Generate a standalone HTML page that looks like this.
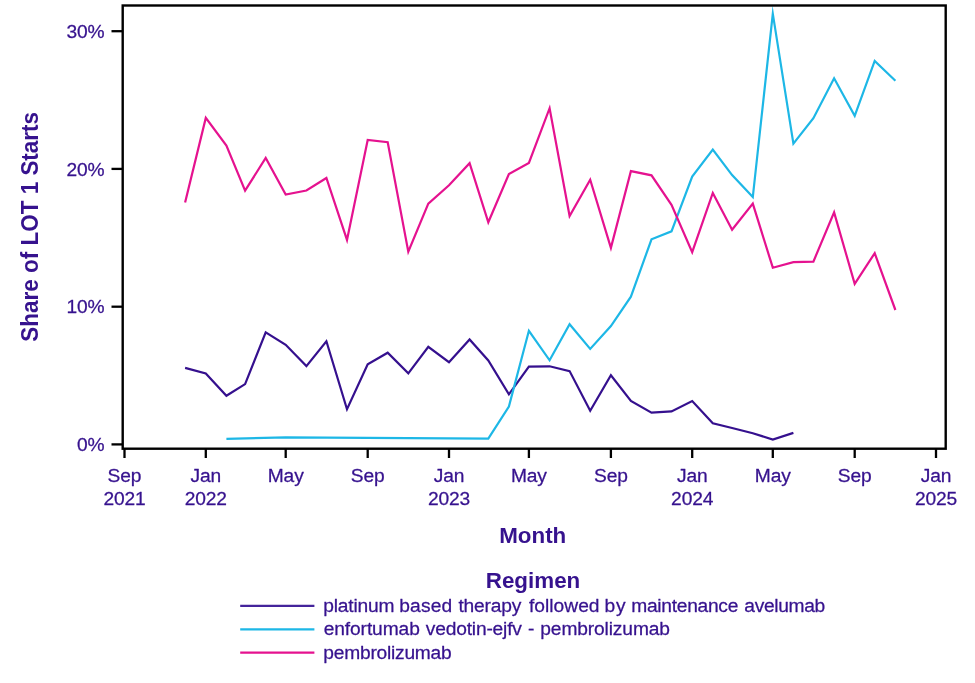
<!DOCTYPE html>
<html><head><meta charset="utf-8"><title>Share of LOT 1 Starts</title>
<style>
html,body{margin:0;padding:0;background:#fff;}
body{width:975px;height:683px;overflow:hidden;font-family:"Liberation Sans",sans-serif;}
svg{display:block;will-change:transform;}
text{font-family:"Liberation Sans",sans-serif;fill:#36128e;stroke:#36128e;stroke-width:0.28px;stroke-linejoin:round;}
.ttl{stroke:none;}
.tk{font-size:19.2px;letter-spacing:-0.12px;}
.ttl{font-size:22.4px;font-weight:bold;}
.lg{font-size:19.2px;letter-spacing:-0.12px;}
</style></head><body>
<svg width="975" height="683" viewBox="0 0 975 683">
<rect x="0" y="0" width="975" height="683" fill="#fff"/>
<g fill="none" stroke-width="2.2" stroke-linejoin="miter" stroke-miterlimit="20" stroke-linecap="butt">
<polyline stroke="#35108e" points="185.1,367.9 205.8,373.4 226.4,395.8 245.1,384.1 265.7,332.4 285.7,344.8 306.4,366.1 326.4,341.2 347.0,409.2 367.7,364.4 387.7,352.7 408.3,373.3 428.3,346.9 449.0,362.2 469.6,339.4 488.3,360.4 508.9,394.3 528.9,366.7 549.6,366.3 569.6,371.1 590.2,410.7 610.9,375.3 630.9,400.9 651.5,412.6 671.5,411.4 692.2,401.0 712.8,423.3 732.1,428.0 752.8,433.2 772.8,439.5 793.4,432.9"/>
<polyline stroke="#1db7e6" points="226.4,438.8 285.7,437.4 488.3,438.6 508.9,406.5 528.9,330.8 549.6,360.3 569.6,324.3 590.2,348.9 610.9,326.1 630.9,296.7 651.5,239.3 671.5,231.3 692.2,176.6 712.8,149.5 732.1,175.1 752.8,197.1 772.8,13.7 793.4,143.7 813.4,118.2 834.1,78.3 854.7,115.8 874.7,60.9 895.4,80.8"/>
<polyline stroke="#e5128f" points="185.1,202.5 205.8,117.9 226.4,145.5 245.1,190.6 265.7,158.0 285.7,194.5 306.4,190.5 326.4,178.0 347.0,239.9 367.7,140.0 387.7,142.2 408.3,251.7 428.3,203.7 449.0,185.2 469.6,163.2 488.3,222.3 508.9,174.1 528.9,162.9 549.6,108.2 569.6,216.0 590.2,179.8 610.9,247.9 630.9,171.1 651.5,175.3 671.5,204.9 692.2,252.2 712.8,192.9 732.1,229.8 752.8,203.6 772.8,267.7 793.4,262.1 813.4,261.6 834.1,212.4 854.7,283.8 874.7,253.2 895.4,310.0"/>
</g>
<rect x="122.7" y="5.5" width="823" height="443.2" fill="none" stroke="#000" stroke-width="2.4"/>
<g stroke="#000" stroke-width="2.3"><line x1="124.5" y1="449" x2="124.5" y2="458"/><line x1="205.8" y1="449" x2="205.8" y2="458"/><line x1="285.7" y1="449" x2="285.7" y2="458"/><line x1="367.7" y1="449" x2="367.7" y2="458"/><line x1="449.0" y1="449" x2="449.0" y2="458"/><line x1="528.9" y1="449" x2="528.9" y2="458"/><line x1="610.9" y1="449" x2="610.9" y2="458"/><line x1="692.2" y1="449" x2="692.2" y2="458"/><line x1="772.8" y1="449" x2="772.8" y2="458"/><line x1="854.7" y1="449" x2="854.7" y2="458"/><line x1="936.0" y1="449" x2="936.0" y2="458"/><line x1="111.5" y1="444.4" x2="122" y2="444.4"/><line x1="111.5" y1="306.7" x2="122" y2="306.7"/><line x1="111.5" y1="168.9" x2="122" y2="168.9"/><line x1="111.5" y1="31.2" x2="122" y2="31.2"/></g>
<g class="tk" text-anchor="middle"><text x="124.5" y="482">Sep</text><text x="124.5" y="505">2021</text><text x="205.8" y="482">Jan</text><text x="205.8" y="505">2022</text><text x="285.7" y="482">May</text><text x="367.7" y="482">Sep</text><text x="449.0" y="482">Jan</text><text x="449.0" y="505">2023</text><text x="528.9" y="482">May</text><text x="610.9" y="482">Sep</text><text x="692.2" y="482">Jan</text><text x="692.2" y="505">2024</text><text x="772.8" y="482">May</text><text x="854.7" y="482">Sep</text><text x="936.0" y="482">Jan</text><text x="936.0" y="505">2025</text></g>
<g class="tk" text-anchor="end"><text x="104.5" y="451.0">0%</text><text x="104.5" y="313.3">10%</text><text x="104.5" y="175.5">20%</text><text x="104.5" y="37.8">30%</text></g>
<text class="ttl" text-anchor="middle" transform="translate(38.4,226.8) rotate(-90) scale(1.004,1.03)">Share of LOT 1 Starts</text>
<text class="ttl" text-anchor="middle" x="532.7" y="542.8">Month</text>
<text class="ttl" text-anchor="middle" x="533" y="587.7">Regimen</text>
<g fill="none" stroke-width="2.2">
<line x1="240.2" y1="605.8" x2="314.4" y2="605.8" stroke="#44249b"/>
<line x1="240.2" y1="629.3" x2="314.4" y2="629.3" stroke="#1db7e6"/>
<line x1="240.2" y1="652.6" x2="314.4" y2="652.6" stroke="#e5128f"/>
</g>
<g class="lg">
<text x="323.31" y="611.7" style="letter-spacing:-0.181px">platinum</text><text x="399.31" y="611.7" style="letter-spacing:0.146px">based</text><text x="458.42" y="611.7" style="letter-spacing:-0.170px">therapy</text><text x="528.94" y="611.7" style="letter-spacing:0.025px">followed</text><text x="604.59" y="611.7" style="letter-spacing:0.726px">by</text><text x="631.23" y="611.7" style="letter-spacing:-0.277px">maintenance</text><text x="744.34" y="611.7" style="letter-spacing:-0.332px">avelumab</text><text x="323.64" y="635.3" style="letter-spacing:-0.096px">enfortumab</text><text x="425.75" y="635.3" style="letter-spacing:-0.174px">vedotin-ejfv</text><text x="528.08" y="635.3" style="letter-spacing:-0.120px">-</text><text x="540.31" y="635.3" style="letter-spacing:-0.126px">pembrolizumab</text><text x="323.31" y="658.5" style="letter-spacing:-0.229px">pembrolizumab</text>
</g>
</svg>
</body></html>
